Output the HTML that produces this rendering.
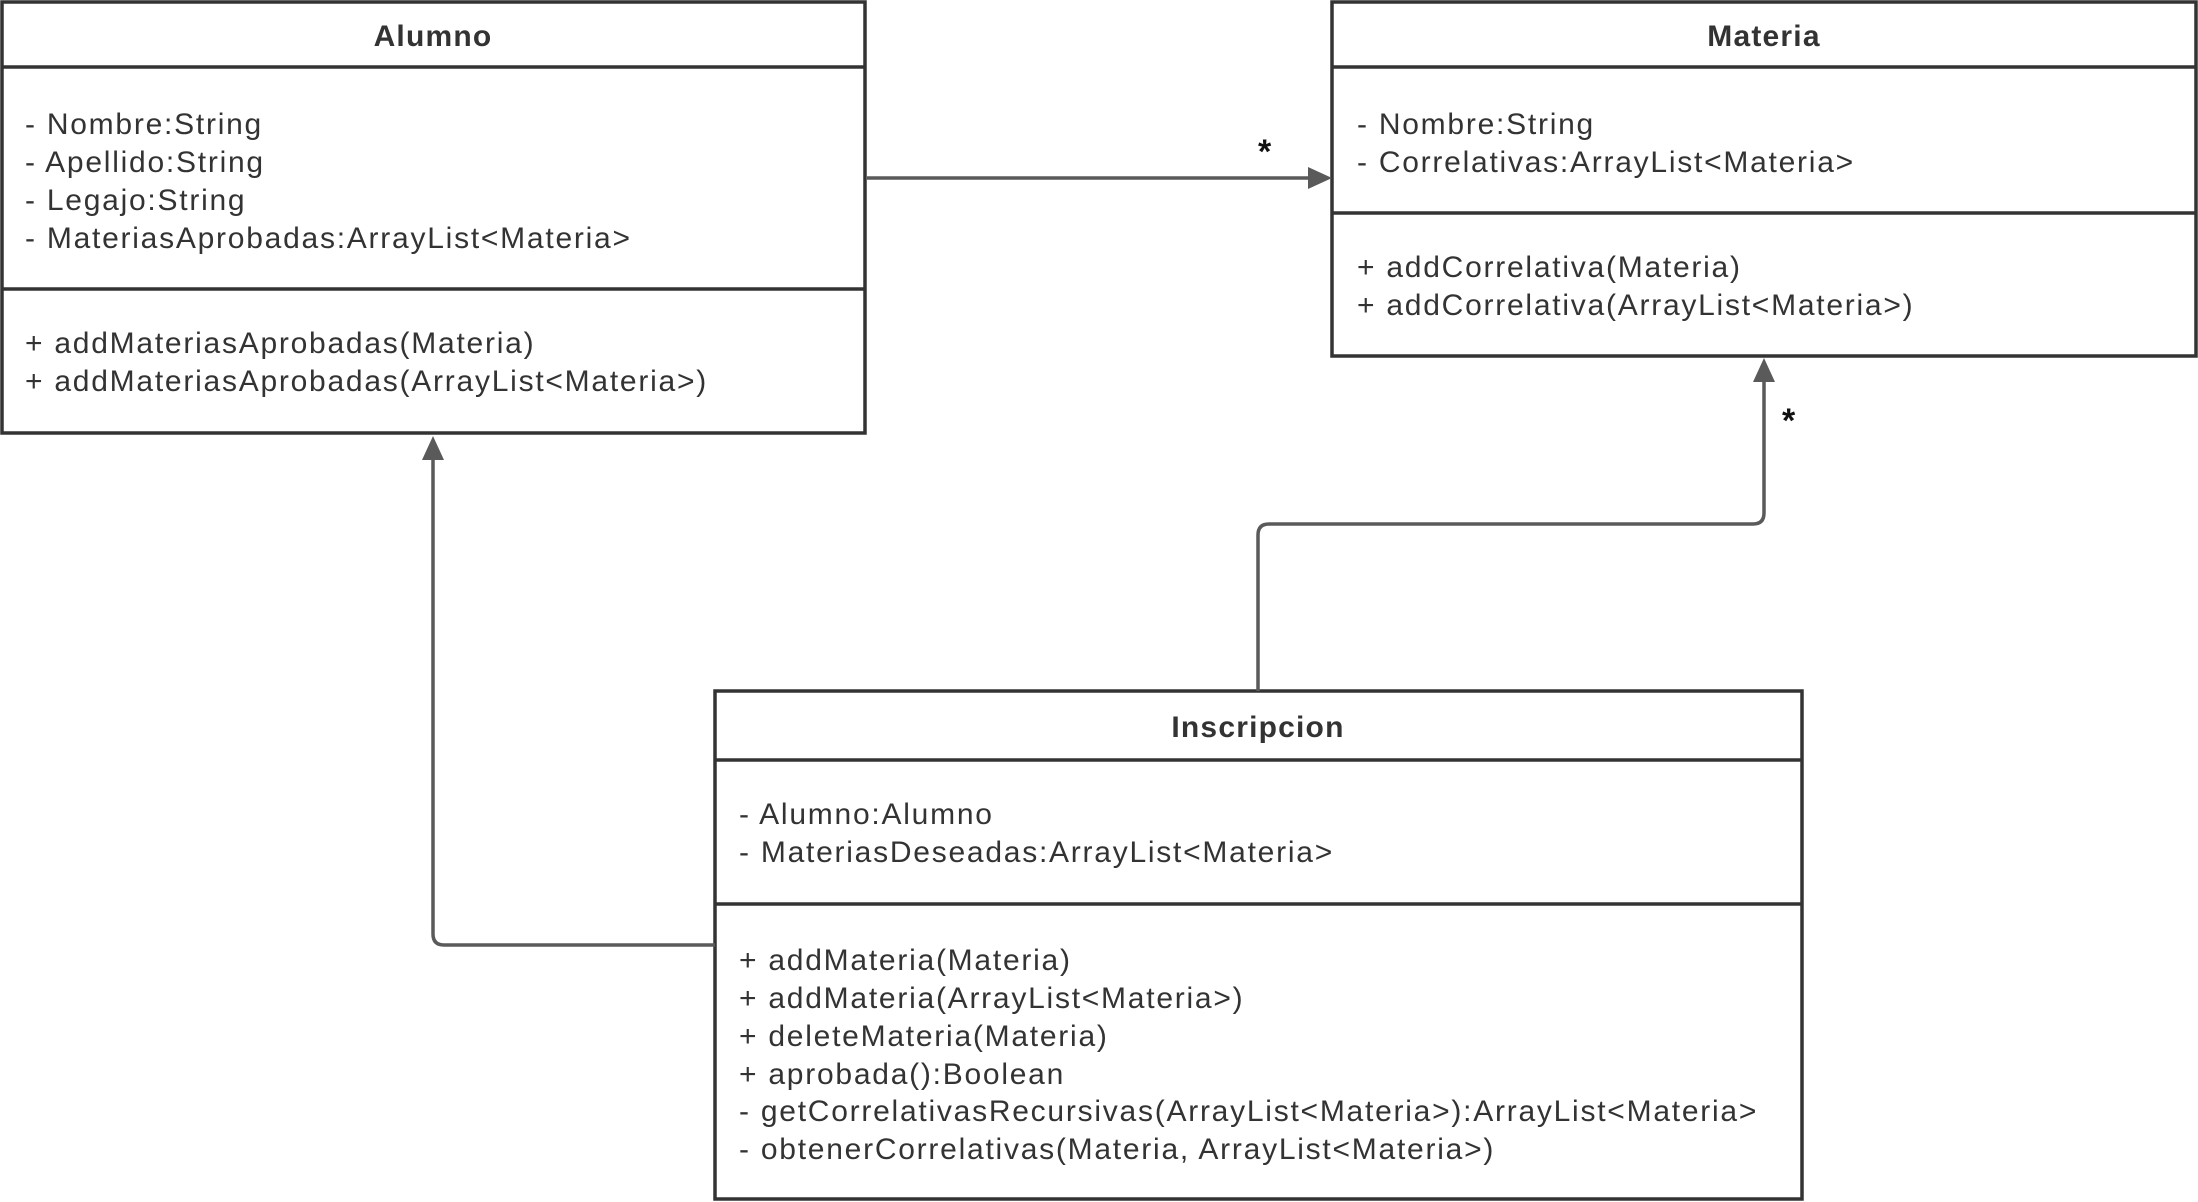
<!DOCTYPE html>
<html><head><meta charset="utf-8"><style>
html,body{margin:0;padding:0;background:#fff;}
svg{display:block;}
text{font-family:"Liberation Sans",sans-serif;fill:#333;}
.t{font-size:30px;letter-spacing:1.75px;}
.h{font-size:30px;font-weight:bold;letter-spacing:1.2px;}
.s{font-size:34px;fill:#111;font-weight:bold;}
</style></head><body>
<svg width="2198" height="1202" viewBox="0 0 2198 1202" xmlns="http://www.w3.org/2000/svg">
<g fill="none" stroke="#333" stroke-width="3.5">
<rect x="2" y="2" width="863" height="431"/>
<line x1="2" y1="67" x2="865" y2="67"/>
<line x1="2" y1="289" x2="865" y2="289"/>
<rect x="1332" y="2" width="864" height="354"/>
<line x1="1332" y1="67" x2="2196" y2="67"/>
<line x1="1332" y1="213" x2="2196" y2="213"/>
<rect x="715" y="691" width="1087" height="508"/>
<line x1="715" y1="760" x2="1802" y2="760"/>
<line x1="715" y1="904" x2="1802" y2="904"/>
</g>
<g fill="none" stroke="#5a5a5a" stroke-width="3.5">
<line x1="867" y1="178" x2="1310" y2="178"/>
<path d="M1258 691 V535 Q1258 524 1269 524 H1753 Q1764 524 1764 513 V380"/>
<path d="M715 945 H444 Q433 945 433 934 V458"/>
</g>
<g fill="#5a5a5a">
<polygon points="1332,178 1308,167 1308,189"/>
<polygon points="1764,358 1753,382 1775,382"/>
<polygon points="433,436 422,460 444,460"/>
</g>
<text class="s" x="1258" y="163">*</text>
<text class="s" x="1782" y="432">*</text>
<text class="h" x="433" y="46" text-anchor="middle">Alumno</text>
<text class="t" x="25" y="134">- Nombre:String</text>
<text class="t" x="25" y="172">- Apellido:String</text>
<text class="t" x="25" y="210">- Legajo:String</text>
<text class="t" x="25" y="248">- MateriasAprobadas:ArrayList&lt;Materia&gt;</text>
<text class="t" x="25" y="353">+ addMateriasAprobadas(Materia)</text>
<text class="t" x="25" y="391">+ addMateriasAprobadas(ArrayList&lt;Materia&gt;)</text>
<text class="h" x="1764" y="46" text-anchor="middle">Materia</text>
<text class="t" x="1357" y="134">- Nombre:String</text>
<text class="t" x="1357" y="172">- Correlativas:ArrayList&lt;Materia&gt;</text>
<text class="t" x="1357" y="277">+ addCorrelativa(Materia)</text>
<text class="t" x="1357" y="315">+ addCorrelativa(ArrayList&lt;Materia&gt;)</text>
<text class="h" x="1258" y="737" text-anchor="middle">Inscripcion</text>
<text class="t" x="739" y="824">- Alumno:Alumno</text>
<text class="t" x="739" y="862">- MateriasDeseadas:ArrayList&lt;Materia&gt;</text>
<text class="t" x="739" y="970">+ addMateria(Materia)</text>
<text class="t" x="739" y="1008">+ addMateria(ArrayList&lt;Materia&gt;)</text>
<text class="t" x="739" y="1046">+ deleteMateria(Materia)</text>
<text class="t" x="739" y="1084">+ aprobada():Boolean</text>
<text class="t" x="739" y="1121">- getCorrelativasRecursivas(ArrayList&lt;Materia&gt;):ArrayList&lt;Materia&gt;</text>
<text class="t" x="739" y="1159">- obtenerCorrelativas(Materia, ArrayList&lt;Materia&gt;)</text>
</svg>
</body></html>
